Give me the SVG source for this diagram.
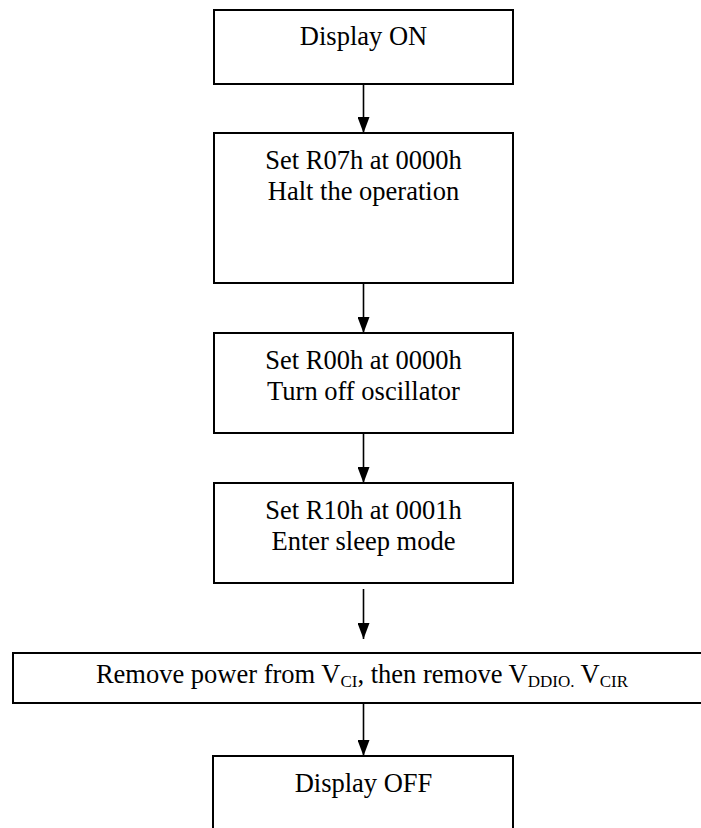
<svg xmlns="http://www.w3.org/2000/svg" width="701" height="828" viewBox="0 0 701 828">
<style>
.box{fill:#fff;stroke:#000;stroke-width:2}
.lbl{font-family:"Liberation Serif","Times New Roman",serif;font-size:26.5px;fill:#000;text-anchor:middle}
.sub{font-size:17px}
.conn{stroke:#000;stroke-width:1.6;fill:none;marker-end:url(#ah)}
</style>
<defs>
<marker id="ah" markerUnits="userSpaceOnUse" markerWidth="16" markerHeight="12" viewBox="0 0 16 12" refX="16" refY="6" orient="auto">
<path d="M0,0 L16,6 L0,12 Z" fill="#000"/>
</marker>
</defs>
<rect width="701" height="828" fill="#fff"/>
<g id="connectors">
<line class="conn" x1="363.5" y1="84" x2="363.5" y2="133"/>
<line class="conn" x1="363.5" y1="283" x2="363.5" y2="333"/>
<line class="conn" x1="363.5" y1="433" x2="363.5" y2="483"/>
<line class="conn" x1="363.5" y1="589" x2="363.5" y2="639"/>
<line class="conn" x1="363.5" y1="703" x2="363.5" y2="756"/>
</g>
<g id="n1"><rect class="box" x="214" y="10" width="299" height="74"/><text class="lbl" x="363.5" y="45">Display ON</text></g>
<g id="n2"><rect class="box" x="214" y="133" width="299" height="150"/><text class="lbl" x="363.5" y="169">Set R07h at 0000h</text><text class="lbl" x="363.5" y="200">Halt the operation</text></g>
<g id="n3"><rect class="box" x="214" y="333" width="299" height="100"/><text class="lbl" x="363.5" y="369">Set R00h at 0000h</text><text class="lbl" x="363.5" y="400">Turn off oscillator</text></g>
<g id="n4"><rect class="box" x="214" y="483" width="299" height="100"/><text class="lbl" x="363.5" y="519">Set R10h at 0001h</text><text class="lbl" x="363.5" y="550">Enter sleep mode</text></g>
<g id="n5"><rect class="box" x="13" y="653" width="700" height="50"/><text class="lbl" x="362" y="683">Remove power from V<tspan class="sub" dy="4">CI</tspan><tspan dy="-4">, then remove V</tspan><tspan class="sub" dy="4">DDIO.</tspan><tspan dy="-4"> V</tspan><tspan class="sub" dy="4">CIR</tspan></text></g>
<g id="n6"><rect class="box" x="213" y="756" width="300" height="90"/><text class="lbl" x="363.5" y="792">Display OFF</text></g>
</svg>
